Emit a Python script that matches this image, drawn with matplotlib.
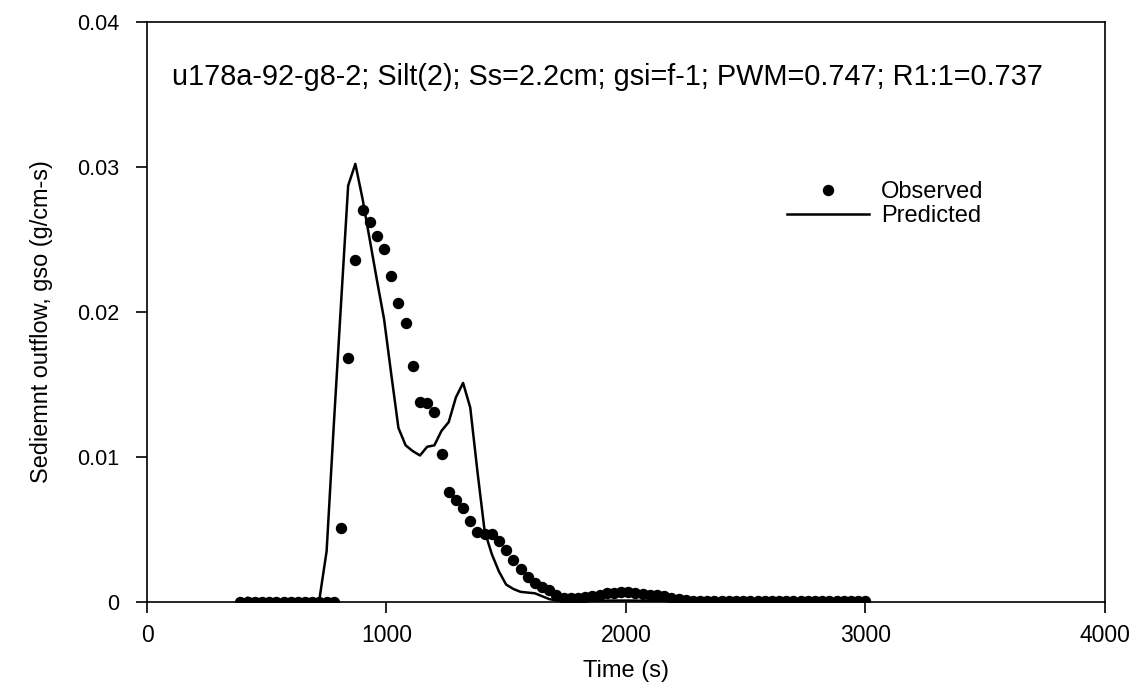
import matplotlib
matplotlib.use("Agg")
import matplotlib.pyplot as plt
from matplotlib.lines import Line2D

plt.rcParams['font.family'] = ['Liberation Sans', 'DejaVu Sans']

# Sampling times (s), 30 s interval
time_s = [
    390, 420, 450, 480, 510, 540, 570, 600, 630, 660, 690, 720, 750, 780,
    810, 840, 870, 900, 930, 960, 990, 1020, 1050, 1080, 1110, 1140, 1170,
    1200, 1230, 1260, 1290, 1320, 1350, 1380, 1410, 1440, 1470, 1500, 1530,
    1560, 1590, 1620, 1650, 1680, 1710, 1740, 1770, 1800, 1830, 1860, 1890,
    1920, 1950, 1980, 2010, 2040, 2070, 2100, 2130, 2160, 2190, 2220, 2250,
    2280, 2310, 2340, 2370, 2400, 2430, 2460, 2490, 2520, 2550, 2580, 2610,
    2640, 2670, 2700, 2730, 2760, 2790, 2820, 2850, 2880, 2910, 2940, 2970,
    3000,
]

# Observed sediment outflow (g/cm-s)
observed = [
    0, 0, 0, 0, 0, 0, 0, 0, 0, 0, 0, 0, 0, 0,
    0.0051, 0.0168, 0.0236, 0.0270, 0.0262, 0.0252, 0.0243, 0.0225, 0.0206,
    0.0192, 0.0163, 0.0138, 0.0137, 0.0131, 0.0102, 0.0076, 0.0070, 0.0065,
    0.0056, 0.0048, 0.0047, 0.0047, 0.0042, 0.0036, 0.0029, 0.0023, 0.0017,
    0.0013, 0.00105, 0.0008, 0.0005, 0.0003, 0.0003, 0.0003, 0.00035, 0.0004,
    0.0005, 0.0006, 0.00065, 0.0007, 0.00068, 0.00062, 0.00058, 0.0005,
    0.00045, 0.0004, 0.0003, 0.0002, 0.00013,
    0.0001, 0.0001, 0.0001, 0.0001, 0.0001, 0.0001, 0.00009, 0.00009,
    0.00009, 0.00008, 0.00008, 0.00008, 0.00007, 0.00007, 0.00007, 0.00006,
    0.00006, 0.00006, 0.00006, 0.00005, 0.00005, 0.00005, 0.00005, 0.00005,
    0.00005,
]

# Predicted sediment outflow (g/cm-s)
predicted = [
    0, 0.0003, 0.0001, 0, 0, 0, 0, 0, 0, 0, 0, 0.0002, 0.0035, 0.0122,
    0.0205, 0.0287, 0.0302, 0.0278, 0.0250, 0.0222, 0.0195, 0.0157, 0.0120,
    0.0108, 0.0104, 0.0101, 0.0107, 0.0108, 0.0118, 0.0124, 0.0141, 0.0151,
    0.0134, 0.0090, 0.0049, 0.0033, 0.0021, 0.0012, 0.0009, 0.0007, 0.00065,
    0.0006, 0.0004, 0.0002, 0.0001, 0.00003, 0.00003, 0.00004, 0.00005,
    0.00006, 0.00008, 0.0001, 0.0001, 0.0001, 0.0001, 0.0001, 0.00008,
    0.00007, 0.00006, 0.00005, 0.00004, 0.00003, 0.00003,
    0.00002, 0.00002, 0.00002, 0.00002, 0.00002, 0.00002, 0.00002, 0.00002,
    0.00002, 0.00002, 0.00002, 0.00002, 0.00002, 0.00002, 0.00002, 0.00002,
    0.00002, 0.00002, 0.00002, 0.00002, 0.00002, 0.00002, 0.00002, 0.00002,
    0.00002,
]

x_ticks = [0, 1000, 2000, 3000, 4000]
y_ticks = [0, 0.01, 0.02, 0.03, 0.04]
y_tick_labels = ['0', '0.01', '0.02', '0.03', '0.04']

run_info = "u178a-92-g8-2; Silt(2); Ss=2.2cm; gsi=f-1; PWM=0.747; R1:1=0.737"

fig = plt.figure(figsize=(11.4, 7.0), dpi=100)
ax = fig.add_axes([0.129, 0.140, 0.840, 0.829])

ax.plot(time_s, predicted, color='black', linewidth=1.8, zorder=2)
ax.plot(time_s, observed, linestyle='none', marker='o', markersize=7.2,
        color='black', zorder=3)

ax.set_xlim(0, 4000)
ax.set_ylim(0, 0.04)
ax.set_xticks(x_ticks)
ax.set_xticklabels([str(t) for t in x_ticks])
ax.set_yticks(y_ticks)
ax.set_yticklabels(y_tick_labels)
ax.tick_params(direction='out', length=8, width=1.2, top=False, right=False)
ax.tick_params(axis='x', labelsize=16.5, pad=8)
ax.tick_params(axis='y', labelsize=15.5, pad=12)
for sp in ax.spines.values():
    sp.set_linewidth(1.2)

ax.set_xlabel('Time (s)', fontsize=17, labelpad=9)
ax.set_ylabel('Sediemnt outflow, gso (g/cm-s)', fontsize=16.9)
ax.yaxis.set_label_coords(-0.098, 0.483)

ax.text(1925, 0.0362, run_info, ha='center', va='center', fontsize=20.8)

handles = [
    Line2D([], [], linestyle='none', marker='o', markersize=7.2, color='black'),
    Line2D([], [], color='black', linewidth=1.8),
]
ax.legend(handles, ['Observed', 'Predicted'], loc='upper left',
          bbox_to_anchor=(0.668, 0.725), frameon=False, fontsize=17,
          handlelength=3.5, handletextpad=0.5, labelspacing=0.08,
          borderaxespad=0, borderpad=0)

fig.savefig('out.png', dpi=100, facecolor='white')
